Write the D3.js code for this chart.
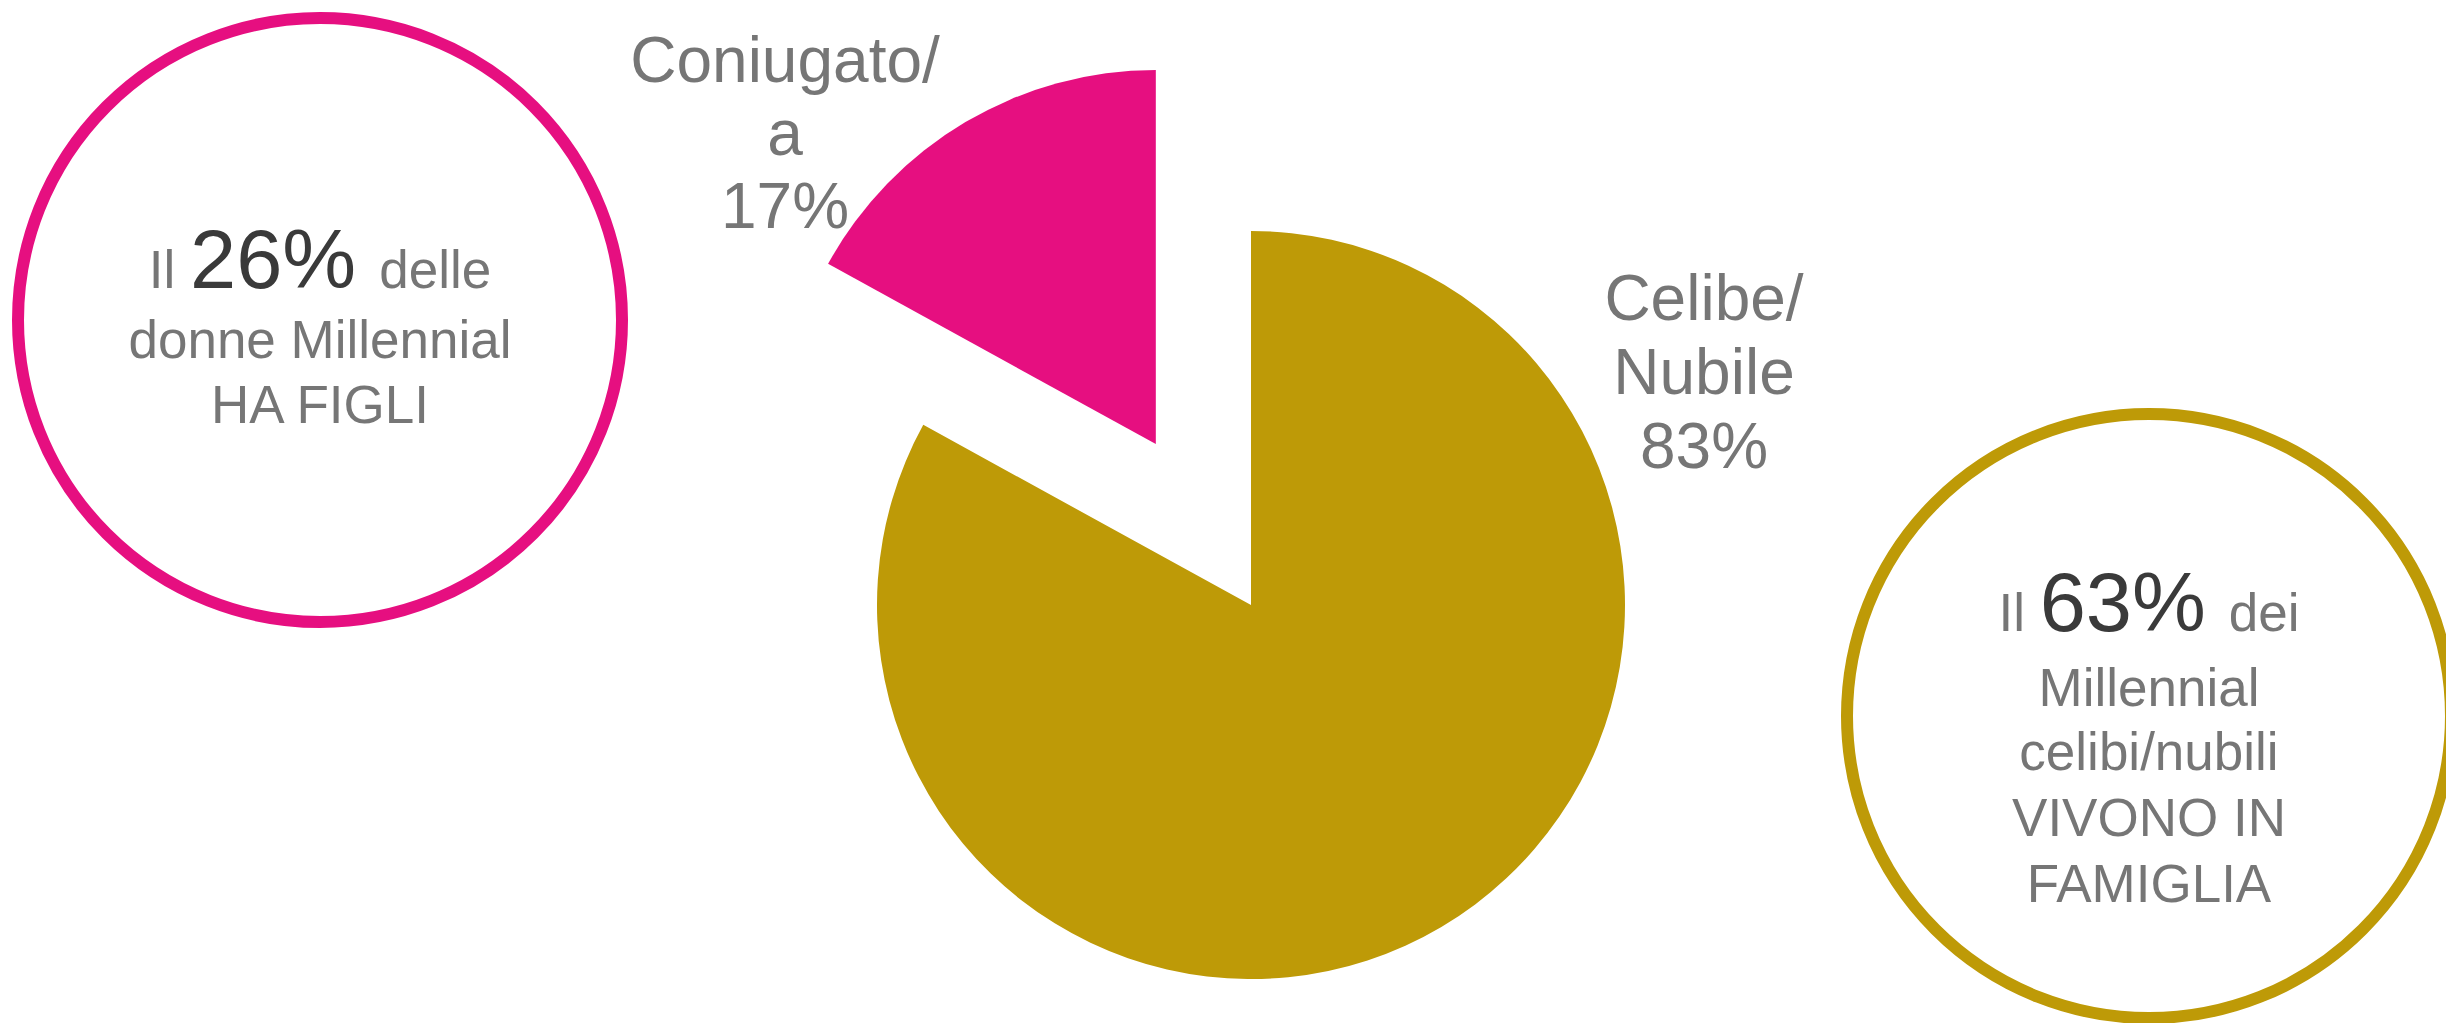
<!DOCTYPE html>
<html>
<head>
<meta charset="utf-8">
<script src="https://cdn.jsdelivr.net/npm/d3@7/dist/d3.min.js"></script>
<style>
  html, body { margin: 0; padding: 0; background: #ffffff; }
  svg { display: block; }
  text { font-family: "Liberation Sans", Arial, sans-serif; white-space: pre; }
</style>
</head>
<body>
<svg id="chart" width="2446" height="1023"></svg>
<script>
// Stato civile dei Millennial
const categories = ["Celibe/Nubile", "Coniugato/a"];
const values = [83, 17];
const colors = ["#BE9A07", "#E60F80"];

// Approfondimenti nei cerchi laterali
const calloutPercents = [26, 63];
const calloutLead = ["Il ", "Il "];
const calloutTail = ["delle", "dei"];
const calloutLines = [
  ["donne Millennial", "HA FIGLI"],
  ["Millennial", "celibi/nubili", "VIVONO IN", "FAMIGLIA"]
];

const W = 2446, H = 1023;
const svg = d3.select("#chart").attr("viewBox", `0 0 ${W} ${H}`);

const GRAY = "#767676";
const DARK = "#3a3a3a";

// ---- Torta con la fetta "Coniugato/a" esplosa ----
const cx = 1251, cy = 605, R = 374, explode = 187;

const pie = d3.pie().sort(null).value(d => d.value).startAngle(0).endAngle(2 * Math.PI);
const arcs = pie(categories.map((c, i) => ({ cat: c, value: values[i], color: colors[i] })));
const arc = d3.arc().innerRadius(0).outerRadius(R);

const pieG = svg.append("g").attr("transform", `translate(${cx},${cy})`);
pieG.selectAll("path")
  .data(arcs)
  .join("path")
  .attr("d", arc)
  .attr("fill", d => d.data.color)
  .attr("transform", (d, i) => {
    if (i === 0) return null;
    const a = (d.startAngle + d.endAngle) / 2;
    return `translate(${explode * Math.sin(a)},${-explode * Math.cos(a)})`;
  });

// Etichette delle fette
const labelPos = [
  { x: 1704, y: [320, 394, 468] },
  { x: 785, y: [82, 155, 228] }
];
const labelSize = 64;

arcs.forEach((d, i) => {
  const parts = d.data.cat.split("/");
  const lines = [parts[0] + "/", parts[1], d.data.value + "%"];
  const t = svg.append("text")
    .attr("text-anchor", "middle")
    .attr("font-size", labelSize)
    .attr("fill", GRAY);
  lines.forEach((ln, k) => {
    t.append("tspan")
      .attr("x", labelPos[i].x)
      .attr("y", labelPos[i].y[k])
      .text(ln);
  });
});

// ---- Cerchi con i dati di approfondimento ----
const circles = [
  { cx: 320, cy: 320, color: colors[1], base: [288, 358, 423] },
  { cx: 2149, cy: 716, color: colors[0], base: [631, 706, 770, 836, 902] }
];
const circleR = 302, ring = 12;
const smallSize = 53, bigSize = 83;

circles.forEach((c, i) => {
  svg.append("circle")
    .attr("cx", c.cx).attr("cy", c.cy).attr("r", circleR)
    .attr("fill", "none")
    .attr("stroke", c.color)
    .attr("stroke-width", ring);

  const first = svg.append("text")
    .attr("x", c.cx).attr("y", c.base[0])
    .attr("text-anchor", "middle")
    .attr("fill", GRAY);
  first.append("tspan").attr("font-size", smallSize).text(calloutLead[i]);
  first.append("tspan").attr("font-size", bigSize).attr("fill", DARK).text(calloutPercents[i] + "% ");
  first.append("tspan").attr("font-size", smallSize).text(calloutTail[i]);

  calloutLines[i].forEach((ln, k) => {
    svg.append("text")
      .attr("x", c.cx).attr("y", c.base[k + 1])
      .attr("text-anchor", "middle")
      .attr("font-size", smallSize)
      .attr("fill", GRAY)
      .text(ln);
  });
});
</script>
</body>
</html>
